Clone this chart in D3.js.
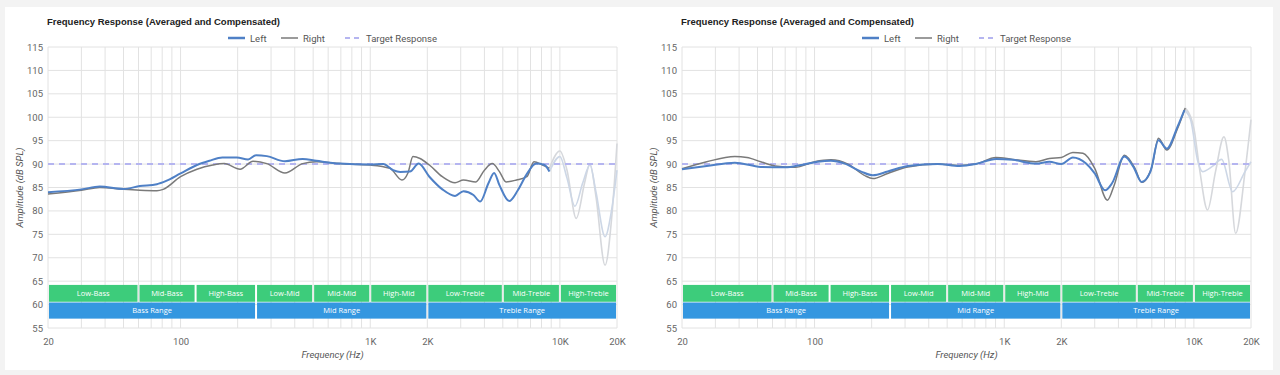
<!DOCTYPE html>
<html>
<head>
<meta charset="utf-8">
<script src="https://cdnjs.cloudflare.com/ajax/libs/d3/7.8.5/d3.min.js"></script>
<style>
  body { margin: 0; background: #f3f3f3; }
  .tick text { font-family: Roboto, "Liberation Sans", sans-serif; font-size: 9.5px; fill: #666; }
  .title { font-family: "Liberation Sans", Arial, sans-serif; font-size: 9.5px; font-weight: bold; fill: #222; }
  .legendText { font-family: Roboto, "Liberation Sans", sans-serif; font-size: 9.5px; fill: #555; }
  .axisText { font-family: Roboto, "Liberation Sans", sans-serif; font-size: 9.5px; font-style: italic; fill: #555; }
  .bandText { font-family: "Open Sans", Roboto, sans-serif; font-size: 7.5px; fill: #fff; }
</style>
</head>
<body>
<div id="chart"></div>
<script>
//Frequency bands shown at the bottom of each chart
var subBands = ["Low-Bass", "Mid-Bass", "High-Bass", "Low-Mid", "Mid-Mid", "High-Mid", "Low-Treble", "Mid-Treble", "High-Treble"];
var subEdges = [20, 60, 120, 250, 500, 1000, 2000, 5000, 10000, 20000];
var rangeBands = ["Bass Range", "Mid Range", "Treble Range"];
var rangeEdges = [20, 250, 2000, 20000];

//Tick labels
var xTickValues = [20, 100, 1000, 2000, 10000, 20000];
var xTickLabels = ["20", "100", "1K", "2K", "10K", "20K"];
var yTickValues = [55, 60, 65, 70, 75, 80, 85, 90, 95, 100, 105, 110, 115];
var targetLevel = 90;

//Chart 1 - left channel
var leftFreqA = [20, 30, 37.5, 50, 61, 75, 84, 100, 122, 142, 166, 198, 227, 250, 285, 355, 440, 520, 690, 1000, 1170, 1320, 1440, 1620, 1800, 2050, 2400, 2800, 3100, 3500, 3800, 4200, 4500, 4800, 5400, 6000, 6700, 7500, 8300, 8800];
var leftValsA = [84.0, 84.6, 85.2, 84.7, 85.3, 85.7, 86.4, 88.0, 89.8, 90.7, 91.4, 91.4, 91.0, 91.9, 91.7, 90.6, 91.1, 90.7, 90.1, 89.9, 90.0, 88.7, 88.3, 88.4, 90.1, 87.3, 84.6, 83.2, 84.2, 83.4, 82.0, 85.9, 88.1, 85.5, 82.1, 84.4, 87.9, 90.1, 89.8, 88.4];
//Chart 1 - right channel
var rightFreqA = [20, 30, 37.5, 50, 61, 75, 81, 100, 122, 148, 170, 206, 241, 285, 355, 440, 520, 690, 1000, 1270, 1470, 1580, 1680, 1830, 2050, 2400, 2800, 3100, 3600, 4000, 4400, 4800, 5200, 5900, 6700, 7300, 8100, 8800];
var rightValsA = [83.6, 84.4, 85.0, 84.6, 84.4, 84.3, 84.6, 87.3, 88.9, 89.8, 90.1, 88.9, 90.6, 90.1, 88.1, 90.1, 90.5, 90.1, 89.8, 89.1, 86.6, 88.1, 91.6, 91.2, 89.8, 87.3, 86.0, 86.6, 86.2, 88.7, 90.1, 88.4, 86.2, 86.6, 87.3, 90.5, 89.8, 89.1];
//Chart 1 - faded treble part
var leftFadeFreqA = [8800, 10000, 10900, 12000, 13200, 14400, 15500, 17300, 18700, 20000];
var leftFadeValsA = [88.4, 91.6, 87.0, 81.0, 86.0, 89.8, 84.0, 74.5, 80.0, 88.7];
var rightFadeFreqA = [8800, 10000, 10900, 12200, 13500, 14400, 15500, 17300, 18700, 20000];
var rightFadeValsA = [89.1, 92.8, 88.7, 78.4, 86.0, 90.1, 83.0, 68.4, 78.0, 94.4];

//Chart 2 - left channel
var leftFreqB = [20, 27, 38, 52, 70, 85, 104, 122, 144, 176, 203, 243, 310, 446, 580, 707, 905, 1110, 1470, 1730, 2000, 2300, 2700, 3000, 3400, 3700, 4300, 4800, 5300, 5900, 6500, 7200, 8200, 8900];
var leftValsB = [88.9, 89.6, 90.3, 89.4, 89.3, 89.8, 90.5, 90.7, 90.1, 88.4, 87.6, 88.4, 89.6, 90.0, 89.6, 90.0, 91.1, 90.9, 90.1, 90.5, 90.0, 91.4, 90.1, 88.0, 84.4, 85.9, 91.6, 89.4, 86.2, 88.4, 95.1, 93.3, 98.0, 101.5];
//Chart 2 - right channel
var rightFreqB = [20, 27, 38, 44, 52, 62, 79, 100, 122, 150, 183, 203, 243, 310, 446, 580, 707, 905, 1110, 1470, 1730, 2000, 2300, 2600, 3000, 3500, 3800, 4300, 4900, 5300, 6000, 6500, 7200, 8200, 9000];
var rightValsB = [89.0, 90.5, 91.6, 91.4, 90.5, 89.6, 89.3, 90.5, 90.9, 90.0, 87.6, 86.9, 88.0, 89.4, 90.0, 89.7, 90.0, 91.4, 91.0, 90.5, 91.2, 91.4, 92.5, 92.3, 89.1, 82.3, 85.5, 91.9, 89.0, 86.1, 89.4, 95.5, 93.0, 97.6, 102.0];
//Chart 2 - faded treble part
var leftFadeFreqB = [8900, 9600, 10500, 11100, 12500, 14000, 16000, 18600, 20000];
var leftFadeValsB = [101.5, 99.5, 90.5, 88.4, 89.5, 91.0, 84.1, 88.4, 90.5];
var rightFadeFreqB = [9000, 10000, 10700, 11800, 13000, 14400, 15300, 16600, 18600, 20000];
var rightFadeValsB = [102.0, 97.6, 89.1, 80.2, 88.4, 95.8, 90.5, 75.2, 88.4, 99.5];

//Sizes
var svgWidth = 1280;
var svgHeight = 375;
var chartWidth = 569;
var chartHeight = 281;

var svg = d3.select("#chart")
    .append("svg")
    .attr("width", svgWidth)
    .attr("height", svgHeight);

//White card behind both charts
svg.append("rect")
    .attr("x", 5)
    .attr("y", 7)
    .attr("width", 1268)
    .attr("height", 363)
    .attr("fill", "#fff");

function pairs(freqs, vals) {
   return freqs.map(function(f, i) { return [f, vals[i]]; });
}

function drawPanel(left, top, set) {
   var chartGroup = svg.append("g")
       .attr("transform", `translate(${left}, ${top})`);

   var xScale = d3.scaleLog()
       .domain([20, 20000])
       .range([0, chartWidth]);
   var yScale = d3.scaleLinear()
       .domain([55, 115])
       .range([chartHeight, 0]);

   //Grid lines
   chartGroup.append("g").selectAll("line")
       .data(xScale.ticks())
       .enter()
       .append("line")
       .attr("x1", d => xScale(d))
       .attr("x2", d => xScale(d))
       .attr("y1", 0)
       .attr("y2", chartHeight)
       .attr("stroke", "#e2e2e2")
       .attr("stroke-width", 1);

   chartGroup.append("g").selectAll("line")
       .data(yTickValues)
       .enter()
       .append("line")
       .attr("x1", 0)
       .attr("x2", chartWidth)
       .attr("y1", d => yScale(d))
       .attr("y2", d => yScale(d))
       .attr("stroke", "#e2e2e2")
       .attr("stroke-width", 1);

   //Axes
   var bottomAxis = d3.axisBottom(xScale)
       .tickValues(xTickValues)
       .tickFormat((d, i) => xTickLabels[i])
       .tickSize(0)
       .tickPadding(10);
   var leftAxis = d3.axisLeft(yScale)
       .tickValues(yTickValues)
       .tickSize(0)
       .tickPadding(5);

   var xAxisG = chartGroup.append("g")
       .attr("transform", `translate(0, ${chartHeight})`)
       .call(bottomAxis);
   xAxisG.select(".domain").remove();

   var yAxisG = chartGroup.append("g")
       .call(leftAxis);
   yAxisG.select(".domain").remove();

   //Band boxes
   var yTop1 = yScale(64.2), yBot1 = yScale(60.6);
   var yTop2 = yScale(60.45), yBot2 = yScale(57.0);

   subBands.forEach(function(name, i) {
      var x0 = xScale(subEdges[i]) + 1, x1 = xScale(subEdges[i + 1]) - 1;
      chartGroup.append("rect")
          .attr("x", x0).attr("y", yTop1)
          .attr("width", x1 - x0).attr("height", yBot1 - yTop1)
          .attr("fill", "#3dcc7b");
      chartGroup.append("text")
          .attr("class", "bandText")
          .attr("x", (x0 + x1) / 2)
          .attr("y", (yTop1 + yBot1) / 2 + 2.7)
          .attr("text-anchor", "middle")
          .text(name);
   });

   rangeBands.forEach(function(name, i) {
      var x0 = xScale(rangeEdges[i]) + 1, x1 = xScale(rangeEdges[i + 1]) - 1;
      chartGroup.append("rect")
          .attr("x", x0).attr("y", yTop2)
          .attr("width", x1 - x0).attr("height", yBot2 - yTop2)
          .attr("fill", "#3497e0");
      chartGroup.append("text")
          .attr("class", "bandText")
          .attr("x", (x0 + x1) / 2)
          .attr("y", (yTop2 + yBot2) / 2 + 2.7)
          .attr("text-anchor", "middle")
          .text(name);
   });

   var line = d3.line()
       .x(d => xScale(d[0]))
       .y(d => yScale(d[1]))
       .curve(d3.curveMonotoneX);

   //Faded treble part
   chartGroup.append("path")
       .attr("d", line(pairs(set.rightFadeFreq, set.rightFadeVals)))
       .attr("fill", "none")
       .attr("stroke", "#d6d8dc")
       .attr("stroke-width", 1.6);
   chartGroup.append("path")
       .attr("d", line(pairs(set.leftFadeFreq, set.leftFadeVals)))
       .attr("fill", "none")
       .attr("stroke", "#cdd7e6")
       .attr("stroke-width", 1.6);

   //Target response
   chartGroup.append("line")
       .attr("x1", 0)
       .attr("x2", chartWidth)
       .attr("y1", yScale(targetLevel))
       .attr("y2", yScale(targetLevel))
       .attr("stroke", "#b5b5f0")
       .attr("stroke-width", 2)
       .attr("stroke-dasharray", "6,5");

   //Right and left channels
   chartGroup.append("path")
       .attr("d", line(pairs(set.rightFreq, set.rightVals)))
       .attr("fill", "none")
       .attr("stroke", "#7a7a7a")
       .attr("stroke-width", 1.5);
   chartGroup.append("path")
       .attr("d", line(pairs(set.leftFreq, set.leftVals)))
       .attr("fill", "none")
       .attr("stroke", "#4f80c6")
       .attr("stroke-width", 2);

   //Title
   chartGroup.append("text")
       .attr("class", "title")
       .attr("x", -1)
       .attr("y", -22)
       .text("Frequency Response (Averaged and Compensated)");

   //Legend
   var legend = chartGroup.append("g")
       .attr("transform", "translate(180, -9)");
   legend.append("line").attr("x1", 0).attr("x2", 17).attr("y1", 0).attr("y2", 0)
       .attr("stroke", "#4f80c6").attr("stroke-width", 2.5);
   legend.append("text").attr("class", "legendText").attr("x", 22).attr("y", 3.5).text("Left");
   legend.append("line").attr("x1", 53).attr("x2", 70).attr("y1", 0).attr("y2", 0)
       .attr("stroke", "#7a7a7a").attr("stroke-width", 1.5);
   legend.append("text").attr("class", "legendText").attr("x", 75).attr("y", 3.5).text("Right");
   legend.append("line").attr("x1", 117).attr("x2", 133).attr("y1", 0).attr("y2", 0)
       .attr("stroke", "#b5b5f0").attr("stroke-width", 2).attr("stroke-dasharray", "5,4");
   legend.append("text").attr("class", "legendText").attr("x", 138).attr("y", 3.5).text("Target Response");

   //Axis labels
   chartGroup.append("text")
       .attr("class", "axisText")
       .attr("transform", "rotate(-90)")
       .attr("x", 0 - chartHeight / 2)
       .attr("y", -25)
       .attr("text-anchor", "middle")
       .text("Amplitude (dB SPL)");

   chartGroup.append("text")
       .attr("class", "axisText")
       .attr("x", chartWidth / 2)
       .attr("y", chartHeight + 30)
       .attr("text-anchor", "middle")
       .text("Frequency (Hz)");
}

drawPanel(48, 47, {
   leftFreq: leftFreqA, leftVals: leftValsA,
   rightFreq: rightFreqA, rightVals: rightValsA,
   leftFadeFreq: leftFadeFreqA, leftFadeVals: leftFadeValsA,
   rightFadeFreq: rightFadeFreqA, rightFadeVals: rightFadeValsA
});

drawPanel(682, 47, {
   leftFreq: leftFreqB, leftVals: leftValsB,
   rightFreq: rightFreqB, rightVals: rightValsB,
   leftFadeFreq: leftFadeFreqB, leftFadeVals: leftFadeValsB,
   rightFadeFreq: rightFadeFreqB, rightFadeVals: rightFadeValsB
});
</script>
</body>
</html>
